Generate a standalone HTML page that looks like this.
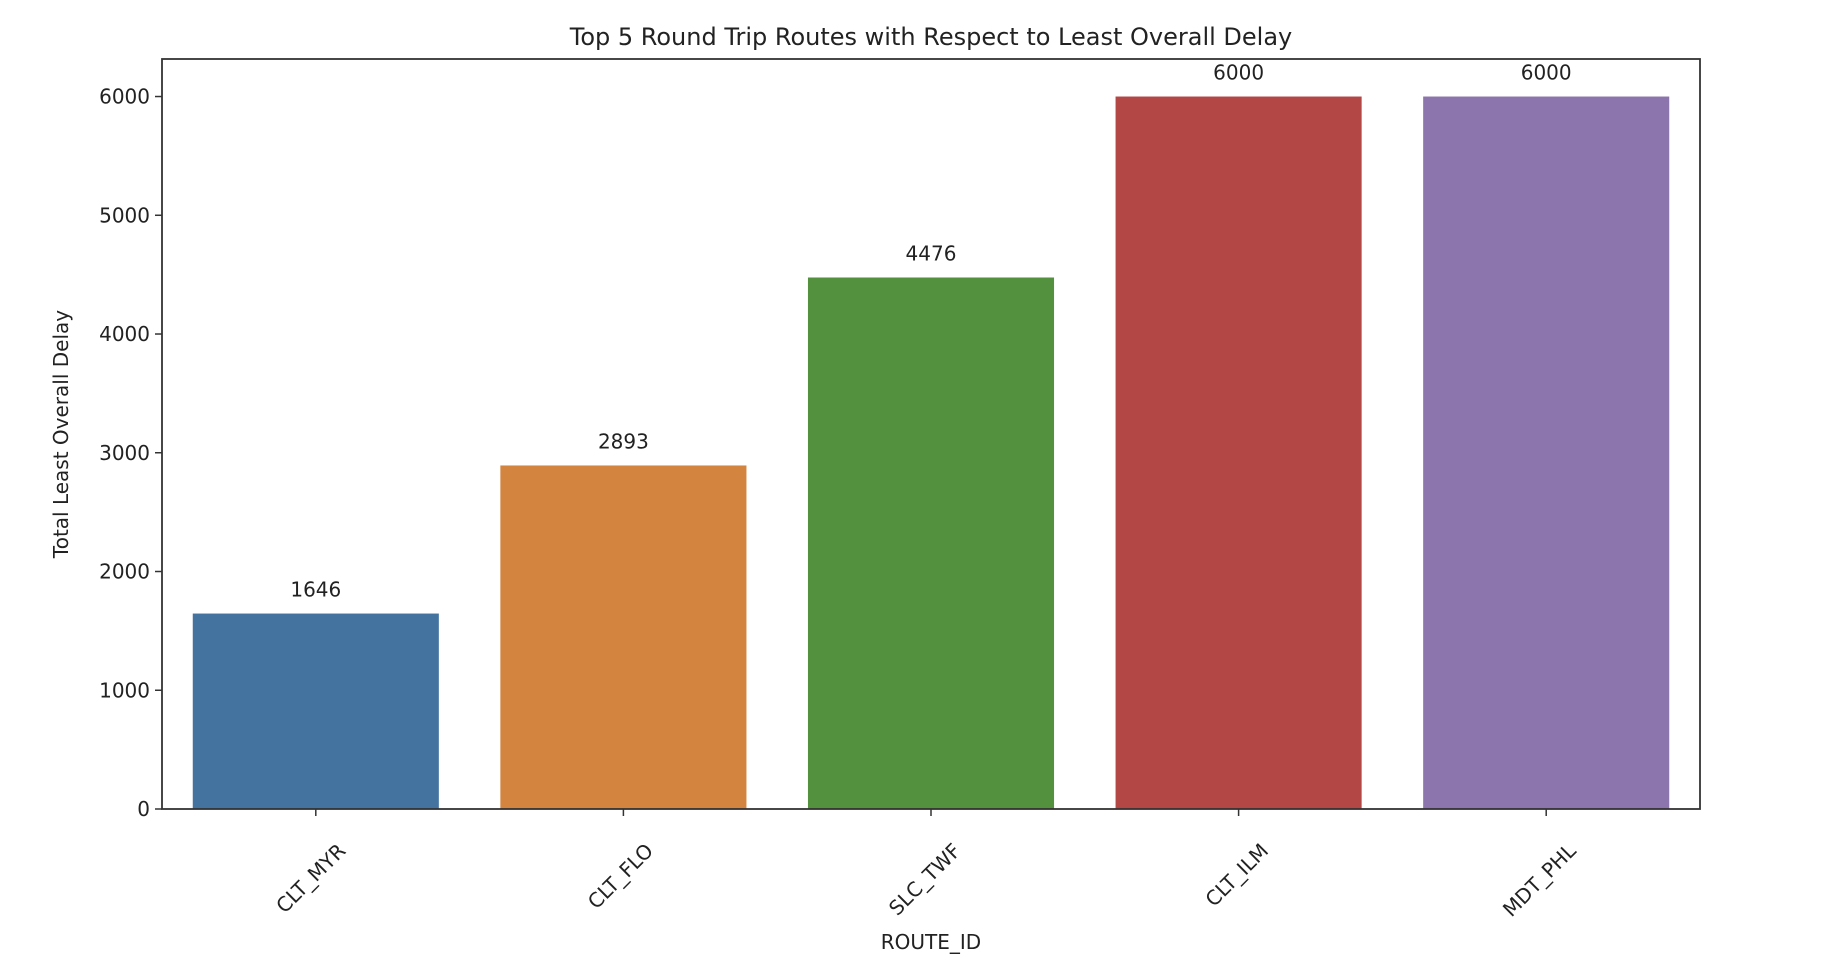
<!DOCTYPE html>
<html><head><meta charset="utf-8"><style>
body{margin:0;background:#fff;}
svg{display:block;font-family:"DejaVu Sans","Liberation Sans",sans-serif;}
</style></head><body>
<svg id="chart" width="1834" height="978">
<text x="931" y="45" font-size="24" text-anchor="middle" fill="#222">Top 5 Round Trip Routes with Respect to Least Overall Delay</text>
<g id="bars"></g>
<g id="yaxis"></g>
<g id="xaxis"></g>
<rect x="162" y="59" width="1538" height="750" fill="none" stroke="#333" stroke-width="1.8"/>
<text transform="translate(68,434) rotate(-90)" font-size="20" text-anchor="middle" fill="#222">Total Least Overall Delay</text>
<text x="931" y="949" font-size="20" text-anchor="middle" fill="#222">ROUTE_ID</text>
</svg>
<script>
const categories = ["CLT_MYR","CLT_FLO","SLC_TWF","CLT_ILM","MDT_PHL"];
const values = [1646, 2893, 4476, 6000, 6000];
const yTicks = [0,1000,2000,3000,4000,5000,6000];
const colors = ["#4473a0","#d3843e","#53913f","#b24745","#8c74ac"];
const NS="http://www.w3.org/2000/svg";
const L=162,R=1700,T=59,B=809,yMax=6316;
const y=v=>B-(v/yMax)*(B-T);
const step=(R-L)/categories.length;
const xc=i=>L+step*(i+0.5);
function mk(tag,attrs,parent,text){const e=document.createElementNS(NS,tag);for(const k in attrs)e.setAttribute(k,attrs[k]);if(text!==undefined)e.textContent=text;parent.appendChild(e);return e;}
const gb=document.getElementById('bars'),gy=document.getElementById('yaxis'),gx=document.getElementById('xaxis');
values.forEach((v,i)=>{
  const w=step*0.8;
  const r=mk('rect',{x:xc(i)-w/2,y:y(v),width:w,height:B-y(v),fill:colors[i]},gb);
  
  
  const t=mk('text',{x:xc(i),y:y(v)-17,'font-size':20,'text-anchor':'middle',fill:'#222'},gb,String(v));
  
  
});
yTicks.forEach(v=>{
  const l=mk('line',{x1:L-7,x2:L,y1:y(v),y2:y(v),stroke:'#333','stroke-width':1.5},gy);
  
  
  const t=mk('text',{x:L-12,y:y(v)+7,'font-size':20,'text-anchor':'end',fill:'#222'},gy,String(v));
  
  
});
categories.forEach((c,i)=>{
  const l=mk('line',{x1:xc(i),x2:xc(i),y1:B,y2:B+7,stroke:'#333','stroke-width':1.5},gx);
  
  
  const px=xc(i)+31,py=B+43;
  const t=mk('text',{x:px,y:py,'font-size':20,'text-anchor':'end',fill:'#222',transform:`rotate(-45 ${px} ${py})`},gx,c);
  
  
});
</script>
</body></html>
